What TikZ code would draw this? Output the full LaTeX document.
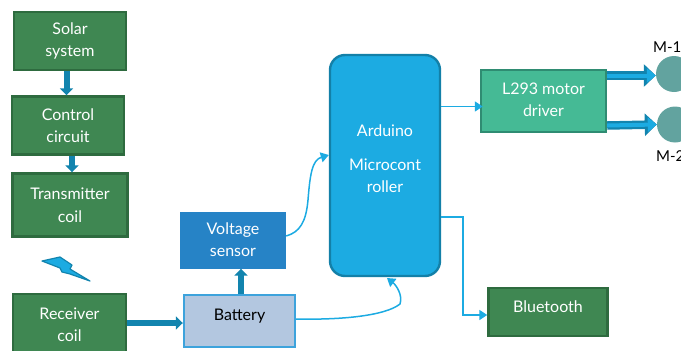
\documentclass[tikz,border=0pt]{standalone}
\usepackage{fontspec}
\setmainfont{Lato}
\usetikzlibrary{arrows.meta}
\definecolor{gfill}{HTML}{3F8752}
\definecolor{gline}{HTML}{2E6B3F}
\definecolor{tfill}{HTML}{45BA95}
\definecolor{tline}{HTML}{2F8C72}
\definecolor{afill}{HTML}{1CABE2}
\definecolor{aline}{HTML}{1380A8}
\definecolor{vfill}{HTML}{2683C6}
\definecolor{bfill}{HTML}{B3C7E0}
\definecolor{bline}{HTML}{3DA3DC}
\definecolor{fatblue}{HTML}{1284AE}
\definecolor{mot}{HTML}{62A39F}
\tikzset{
  box/.style={draw,line width=2.4pt,align=center,text=white,font=\fontsize{16}{22}\selectfont,inner sep=0pt},
  gbox/.style={box,draw=gline,fill=gfill},
  thin arrow/.style={draw=afill,line width=1.5pt,-{Triangle[width=10pt,length=8pt]}},
  fat arrow/.style={draw=fatblue,line width=6pt,-{Triangle[width=13pt,length=7pt]}},
  twin arrow/.style={draw=afill,line width=4pt,-{Triangle[width=14pt,length=9pt]},
    preaction={draw=fatblue,line width=8.5pt,-{Triangle[width=22pt,length=12pt]}}},
  motor/.style={circle,fill=mot,minimum size=36pt,inner sep=0pt},
  mlabel/.style={font=\fontsize{15}{16}\selectfont,text=black,inner sep=0pt,anchor=west}
}
\begin{document}
\begin{tikzpicture}[x=1pt,y=-1pt]
\useasboundingbox (0,0) rectangle (681,351);
\clip (0,0) rectangle (681,351);
\node[gbox,minimum width=112pt,minimum height=58pt] (solar) at (70,41) {Solar\\system};
\node[gbox,minimum width=112pt,minimum height=58pt] (control) at (68,125.5) {Control\\circuit};
\node[gbox,minimum width=115pt,minimum height=63pt] (trans) at (70,205) {\raisebox{1pt}{Transmitter}\\coil};
\node[gbox,minimum width=113pt,minimum height=64pt] (recv) at (69.5,326) {\raisebox{2pt}{Receiver}\\\raisebox{2pt}{coil}};
\node[box,draw=bline,fill=bfill,text=black,minimum width=111pt,minimum height=52pt] (batt) at (239.5,321) {\raisebox{13pt}{Battery}};
\node[box,draw=vfill,fill=vfill,minimum width=104pt,minimum height=54pt] (volt) at (233,240.5) {\raisebox{1pt}{Voltage}\\\raisebox{1pt}{sensor}};
\node[box,draw=aline,fill=afill,rounded corners=15pt,minimum width=110pt,minimum height=221pt] (ard) at (385,165.5) {Arduino\\[12pt]Microcont\\roller\rule[-13pt]{0pt}{0pt}};
\node[gbox,draw=tline,fill=tfill,minimum width=125pt,minimum height=62pt] (drv) at (543.5,101) {\raisebox{2pt}{L293 motor}\\\raisebox{2pt}{driver}};
\node[gbox,minimum width=119pt,minimum height=48pt] (blue) at (548,312) {\raisebox{10pt}{Bluetooth}};
\node[motor] (m1) at (674,74) {};
\node[motor] (m2) at (675,124.5) {};
\node[mlabel] (l1) at (653,47) {M-1};
\node[mlabel] (l2) at (656,156) {M-2};
\filldraw[fill=afill,draw=fatblue,line width=1.2pt,line join=round] (42,261) -- (60,257) -- (72,265) -- (70,269) -- (90,281) -- (70,274) -- (62,272) -- (60,268) -- cycle;
\draw[fat arrow] ([xshift=-3.5pt]solar.south) -- ([xshift=-1.5pt]control.north);
\draw[fat arrow] ([xshift=4pt]control.south) -- ([xshift=2pt]trans.north);
\draw[fat arrow] (recv.east |- 0,323) -- (batt.west |- 0,323);
\draw[fat arrow] ([xshift=1.5pt]batt.north) -- ([xshift=8pt]volt.south);
\draw[twin arrow] (drv.east |- 0,75.5) -- (m1.west |- 0,75.5);
\draw[twin arrow] (drv.east |- 0,125.5) -- (m2.west);
\draw[thin arrow] (ard.east |- 0,106.5) -- ([xshift=3pt]drv.west |- 0,106.5);
\draw[thin arrow] (ard.east |- 0,217) -| (463,315) -- (blue.west |- 0,315);
\draw[thin arrow] (volt.east |- 0,236) .. controls (300,232) and (306,222) .. (308,200) .. controls (310,175) and (312,160) .. (ard.west |- 0,155);
\draw[thin arrow] (batt.east |- 0,319) .. controls (340,320) and (385,316) .. (400,304) .. controls (403,295) and (396,285) .. (387,278);
\end{tikzpicture}
\end{document}
